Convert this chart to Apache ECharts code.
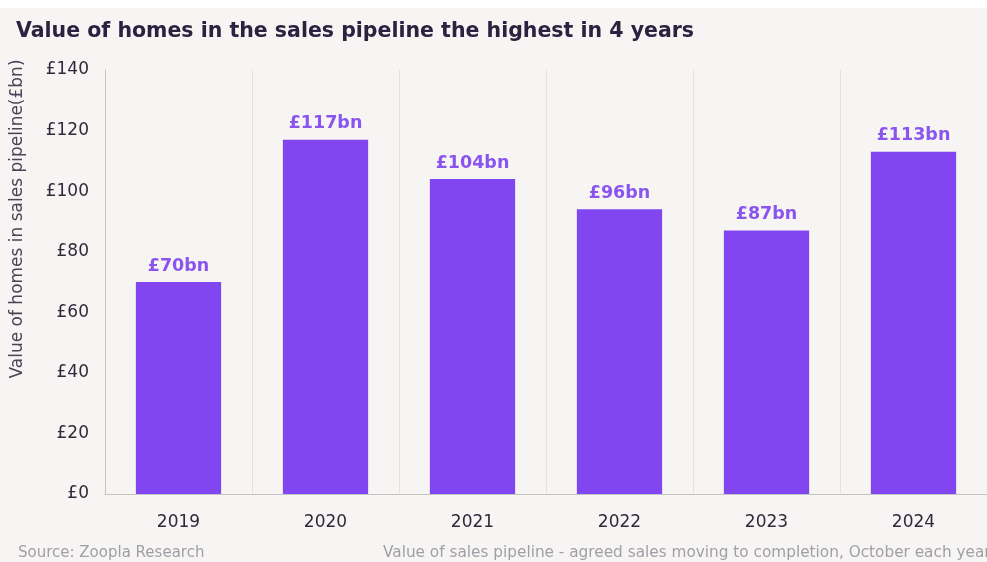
<!DOCTYPE html>
<html><head><meta charset="utf-8">
<script src="https://cdn.jsdelivr.net/npm/echarts@6/dist/echarts.min.js"></script>
<style>html,body{margin:0;padding:0;background:#f6f5f3;}#c{width:987px;height:562px;}</style>
</head><body><div id="c"></div>
<script>
const categories = ['2019','2020','2021','2022','2023','2024'];
const values = [70, 117, 104, 94, 87, 113];
const valueLabels = ['£70bn','£117bn','£104bn','£96bn','£87bn','£113bn'];
const yTicks = [0,20,40,60,80,100,120,140];
const titleText = 'Value of homes in the sales pipeline the highest in 4 years';
const yAxisTitle = 'Value of homes in sales pipeline(£bn)';
const sourceText = 'Source: Zoopla Research';
const noteText = 'Value of sales pipeline - agreed sales moving to completion, October each year';

const font = '"DejaVu Sans", "Noto Sans", sans-serif';
const chart = echarts.init(document.getElementById('c'));
chart.setOption({
  backgroundColor: '#f6f5f3',
  animation: false,
  title: {
    text: titleText, left: 11, top: 16,
    textStyle: {fontFamily: font, fontSize: 20.5, fontWeight: 'bold', color: '#2a2340'}
  },
  grid: {left: 105, right: -3, top: 70, bottom: 68, containLabel: false},
  xAxis: {
    type: 'category', data: categories,
    axisLine: {show: true, lineStyle: {color: '#c4c4c4'}},
    axisTick: {show: false},
    axisLabel: {fontFamily: font, fontSize: 17, color: '#2e2a3a', margin: 20},
    splitLine: {show: true, lineStyle: {color: '#e4e2df', width: 1}}
  },
  yAxis: {
    type: 'value', min: yTicks[0], max: yTicks[yTicks.length-1], interval: 20,
    axisLine: {show: true, lineStyle: {color: '#c4c4c4'}},
    axisTick: {show: false},
    splitLine: {show: false},
    axisLabel: {fontFamily: font, fontSize: 17, color: '#2e2a3a', margin: 16,
      formatter: v => '£' + v}
  },
  graphic: [
    {type: 'rect', left: 0, top: 0, shape: {width: 987, height: 8}, style: {fill: '#ffffff'}},
    {type: 'text', x: 18, y: 219, rotation: Math.PI/2,
      style: {text: yAxisTitle, fontFamily: font, fontSize: 17, fill: '#4a4458',
        align: 'center', verticalAlign: 'middle'}},
    {type: 'text', x: 18, y: 553,
      style: {text: sourceText, fontFamily: font, fontSize: 15, fill: '#a09ea6', verticalAlign: 'middle'}},
    {type: 'text', x: 383, y: 553,
      style: {text: noteText, fontFamily: font, fontSize: 15.3, fill: '#a09ea6', verticalAlign: 'middle'}}
  ],
  series: [{
    type: 'bar', data: values, barWidth: '58%',
    itemStyle: {color: '#8146f0'},
    label: {show: true, position: 'top', distance: 7,
      formatter: p => valueLabels[p.dataIndex],
      fontFamily: font, fontSize: 17.5, fontWeight: 'bold', color: '#8a55ee'}
  }]
});
</script></body></html>
